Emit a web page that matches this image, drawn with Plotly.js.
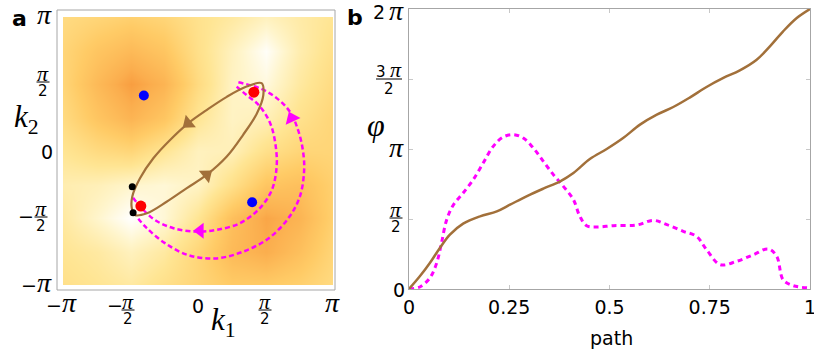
<!DOCTYPE html>
<html>
<head>
<meta charset="utf-8">
<script src="https://cdn.plot.ly/plotly-3.0.1.min.js"></script>
<style>body{margin:0;background:#fff}#plot{width:814px;height:352px}</style>
</head>
<body>
<div id="plot"></div>
<script>
var PI = Math.PI;

// panel a: background field on a coarse k grid (rows go from k2=-pi up to k2=pi)
var kGrid = [-PI, -3*PI/4, -PI/2, -PI/4, 0, PI/4, PI/2, 3*PI/4, PI];
var density = [
  [0.40, 0.35, 0.30, 0.40, 0.50, 0.60, 0.60, 0.55, 0.45],
  [0.35, 0.30, 0.20, 0.30, 0.50, 0.75, 0.85, 0.70, 0.50],
  [0.30, 0.15, 0.00, 0.12, 0.35, 0.70, 0.90, 0.80, 0.55],
  [0.25, 0.22, 0.15, 0.12, 0.18, 0.40, 0.65, 0.70, 0.55],
  [0.35, 0.45, 0.50, 0.35, 0.20, 0.22, 0.40, 0.50, 0.50],
  [0.45, 0.65, 0.80, 0.65, 0.35, 0.18, 0.22, 0.38, 0.50],
  [0.50, 0.75, 0.95, 0.80, 0.45, 0.18, 0.10, 0.30, 0.45],
  [0.50, 0.65, 0.75, 0.65, 0.40, 0.20, 0.02, 0.25, 0.40],
  [0.45, 0.50, 0.55, 0.50, 0.38, 0.30, 0.20, 0.28, 0.35]
];

// brown loop
var loopK1 = [1.48, 1.13, 0.67, 0.20, -0.23, -0.65, -1.04, -1.35, -1.53, -1.54, -1.47, -1.19, -0.73, -0.26, 0.20, 0.67, 1.05, 1.37, 1.52, 1.48];
var loopK2 = [1.59, 1.51, 1.27, 0.96, 0.65, 0.26, -0.17, -0.64, -1.07, -1.34, -1.50, -1.46, -1.19, -0.87, -0.56, -0.13, 0.38, 0.88, 1.31, 1.59];
var loopArrowK1 = [-0.23, 0.20];
var loopArrowK2 = [0.65, -0.56];
var loopArrowAngle = [231, 51];

// magenta dashed arcs
var outerK1 = [0.94, 1.44, 1.83, 2.14, 2.33, 2.44, 2.47, 2.37, 2.10, 1.64, 1.05, 0.40, -0.23, -0.77, -1.19, -1.43];
var outerK2 = [1.61, 1.47, 1.24, 0.92, 0.49, 0.02, -0.45, -1.07, -1.58, -2.05, -2.36, -2.52, -2.44, -2.16, -1.81, -1.54];
var innerK1 = [0.90, 1.13, 1.37, 1.56, 1.71, 1.81, 1.83, 1.72, 1.44, 0.98, 0.43, -0.03, -0.57, -1.00, -1.31, -1.53];
var innerK2 = [1.51, 1.31, 1.12, 0.88, 0.57, 0.10, -0.37, -0.91, -1.34, -1.69, -1.85, -1.89, -1.81, -1.62, -1.34, -1.07];
var arcArrowK1 = [2.18, 0.05];
var arcArrowK2 = [0.77, -1.87];
var arcArrowAngle = [336, 270];

var redK1 = [1.30, -1.33], redK2 = [1.38, -1.29];
var blueK1 = [-1.26, 1.26], blueK2 = [1.30, -1.20];
var blackK1 = [-1.53, -1.51], blackK2 = [-0.84, -1.45];

// panel b
var pathBrown = [0, 0.027, 0.052, 0.077, 0.102, 0.135, 0.177, 0.219, 0.252, 0.293, 0.335, 0.377, 0.410, 0.451, 0.493, 0.534, 0.576, 0.618, 0.659, 0.701, 0.742, 0.784, 0.825, 0.867, 0.900, 0.933, 0.967, 1];
var phiBrown = [0, 0.284, 0.583, 0.92, 1.219, 1.466, 1.631, 1.743, 1.892, 2.079, 2.252, 2.416, 2.603, 2.917, 3.142, 3.388, 3.688, 3.912, 4.084, 4.301, 4.533, 4.735, 4.907, 5.146, 5.445, 5.782, 6.081, 6.283];
var pathMagenta = [0, 0.027, 0.052, 0.069, 0.081, 0.094, 0.111, 0.135, 0.160, 0.185, 0.210, 0.235, 0.260, 0.285, 0.310, 0.335, 0.360, 0.385, 0.410, 0.426, 0.443, 0.468, 0.510, 0.568, 0.609, 0.643, 0.684, 0.717, 0.742, 0.776, 0.817, 0.859, 0.896, 0.917, 0.933, 0.958, 1];
var phiMagenta = [0, 0.045, 0.247, 0.583, 1.032, 1.556, 1.892, 2.154, 2.453, 2.827, 3.201, 3.411, 3.464, 3.388, 3.164, 2.865, 2.566, 2.304, 2.005, 1.631, 1.421, 1.391, 1.421, 1.436, 1.541, 1.444, 1.294, 1.182, 0.883, 0.546, 0.621, 0.770, 0.898, 0.733, 0.209, 0.075, 0.022];

var BROWN = '#A2703A', MAGENTA = '#FF00FF';
var SANS = 'DejaVu Sans', SERIF = 'Liberation Serif';
var W = 814, H = 352;

var annotations = [], shapes = [];

// text placed by pixel position
function lab(t, x, y, fam, size) {
  annotations.push({text: t, x: x / W, y: 1 - y / H, xref: 'paper', yref: 'paper',
    xanchor: 'center', yanchor: 'middle', showarrow: false,
    font: {family: fam, size: size, color: '#000'}});
}
function bar(x, y, w) {
  shapes.push({type: 'line', xref: 'paper', yref: 'paper', x0: (x - w/2) / W, x1: (x + w/2) / W,
    y0: 1 - y / H, y1: 1 - y / H, line: {color: '#000', width: 1}});
}
// pi over 2, bar centred at (x, y)
function halfPi(x, y) {
  lab('<i>π</i>', x, y - 9, SERIF, 22);
  lab('2', x, y + 9, SANS, 15);
  bar(x, y, 13);
}
function bigPi(x, y) { lab('<i>π</i>', x, y - 3, SERIF, 28); }

// panel a tick labels
lab('−', 54, 305, SANS, 19); bigPi(69, 305);
lab('−', 115, 305, SANS, 19); halfPi(128, 310);
lab('0', 198, 306, SANS, 19);
halfPi(265, 310);
bigPi(332, 305);

bigPi(44, 17);
halfPi(43, 82);
lab('0', 47, 152, SANS, 19);
lab('−', 26, 216, SANS, 19); halfPi(41, 217);
lab('−', 29, 285, SANS, 19); bigPi(44, 285);

// panel b y tick labels
lab('2', 379, 12, SANS, 19); bigPi(396, 13);
lab('3', 381, 72, SANS, 15); lab('<i>π</i>', 396, 69, SERIF, 22); lab('2', 389, 89, SANS, 15); bar(389, 79, 26);
bigPi(396, 150);
halfPi(396, 218);
lab('0', 399, 290, SANS, 19);

// panel letters and axis titles
lab('<b>a</b>', 19, 18, SANS, 22);
lab('<b>b</b>', 355, 17, SANS, 22);
lab('<i>k</i><sub>1</sub>', 223, 322, SERIF, 31);
lab('<i>k</i><sub>2</sub>', 26, 119, SERIF, 31);
lab('<i>φ</i>', 376, 125, SERIF, 32);
lab('path', 611, 338, SANS, 19);

// frame round panel a
shapes.push({type: 'rect', xref: 'paper', yref: 'paper', x0: 57/W, x1: 335/W, y0: 1 - 290/H, y1: 1 - 10/H,
  line: {color: '#A6A6A6', width: 1}});

var data = [
  {type: 'heatmap', x: kGrid, y: kGrid, z: density, zsmooth: 'best', zmin: 0, zmax: 1,
   colorscale: [[0, '#FFFFFF'], [0.15, '#FFF5CC'], [0.35, '#FFE593'], [0.6, '#FFCB66'], [0.85, '#FBAE4E'], [1, '#F7963A']],
   showscale: false, hoverinfo: 'skip', xaxis: 'x', yaxis: 'y'},
  {x: outerK1, y: outerK2, mode: 'lines', line: {color: MAGENTA, width: 2.5, dash: '5px,3px', shape: 'spline'}, xaxis: 'x', yaxis: 'y'},
  {x: innerK1, y: innerK2, mode: 'lines', line: {color: MAGENTA, width: 2.5, dash: '5px,3px', shape: 'spline'}, xaxis: 'x', yaxis: 'y'},
  {x: arcArrowK1, y: arcArrowK2, mode: 'markers', marker: {symbol: 'triangle-up', size: 14, color: MAGENTA, angle: arcArrowAngle}, xaxis: 'x', yaxis: 'y'},
  {x: loopK1, y: loopK2, mode: 'lines', line: {color: BROWN, width: 2.2, shape: 'spline'}, xaxis: 'x', yaxis: 'y'},
  {x: loopArrowK1, y: loopArrowK2, mode: 'markers', marker: {symbol: 'triangle-up', size: 14, color: BROWN, angle: loopArrowAngle}, xaxis: 'x', yaxis: 'y'},
  {x: blueK1, y: blueK2, mode: 'markers', marker: {color: '#0000FF', size: 10}, xaxis: 'x', yaxis: 'y'},
  {x: redK1, y: redK2, mode: 'markers', marker: {color: '#FF0000', size: 11}, xaxis: 'x', yaxis: 'y'},
  {x: blackK1, y: blackK2, mode: 'markers', marker: {color: '#000000', size: 7}, xaxis: 'x', yaxis: 'y'},
  {x: pathMagenta, y: phiMagenta, mode: 'lines', line: {color: MAGENTA, width: 3, dash: '5px,4px', shape: 'spline'}, xaxis: 'x2', yaxis: 'y2'},
  {x: pathBrown, y: phiBrown, mode: 'lines', line: {color: BROWN, width: 2.5, shape: 'spline'}, xaxis: 'x2', yaxis: 'y2'}
];

var layout = {
  width: W, height: H,
  margin: {l: 0, r: 0, t: 0, b: 0},
  paper_bgcolor: '#fff', plot_bgcolor: '#fff',
  showlegend: false, hovermode: false,
  xaxis: {domain: [63/W, 333/W], range: [-PI, PI], anchor: 'y', showgrid: false, zeroline: false,
          showticklabels: false, ticks: ''},
  yaxis: {domain: [1 - 285/H, 1 - 17/H], range: [-PI, PI], anchor: 'x', showgrid: false, zeroline: false,
          showticklabels: false, ticks: ''},
  xaxis2: {domain: [409/W, 810/W], range: [0, 1], anchor: 'y2', showgrid: false, zeroline: false,
           showline: true, mirror: 'ticks', linecolor: '#A6A6A6', linewidth: 1,
           ticks: 'inside', ticklen: 4, tickcolor: '#C8C8C8',
           tickvals: [0, 0.25, 0.5, 0.75, 1], ticktext: ['0', '0.25', '0.5', '0.75', '1'],
           tickfont: {family: SANS, size: 19, color: '#000'}, ticklabelstandoff: 1, ticklabeloverflow: 'allow'},
  yaxis2: {domain: [1 - 289/H, 1 - 9/H], range: [0, 2*PI], anchor: 'x2', showgrid: false, zeroline: false,
           showline: true, mirror: 'ticks', linecolor: '#A6A6A6', linewidth: 1,
           ticks: 'inside', ticklen: 4, tickcolor: '#C8C8C8',
           tickvals: [0, PI/2, PI, 3*PI/2, 2*PI], showticklabels: false},
  shapes: shapes,
  annotations: annotations
};

Plotly.newPlot('plot', data, layout, {staticPlot: true});
</script>
</body>
</html>
